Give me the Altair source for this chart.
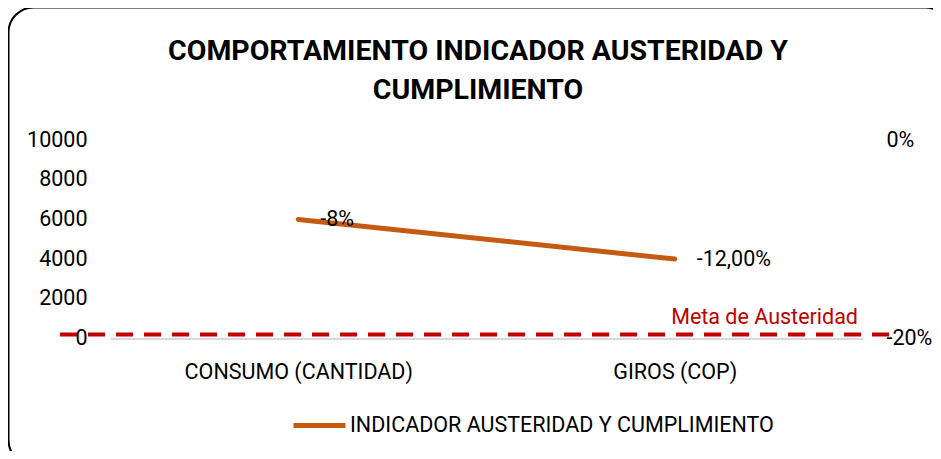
import altair as alt
import pandas as pd

# ---- data ----
categorias = ["CONSUMO (CANTIDAD)", "GIROS (COP)"]
valores = [6000, 4000]
porcentajes = [-8, -12]
etiquetas = ["-8%", "-12,00%"]
serie = "INDICADOR AUSTERIDAD Y CUMPLIMIENTO"
meta_valor = [200]
meta_texto = ["Meta de Austeridad"]
ticks_izq = [0, 2000, 4000, 6000, 8000, 10000]
ticks_der = [-20, 0]
titulo = ["COMPORTAMIENTO INDICADOR AUSTERIDAD Y", "CUMPLIMIENTO"]

df = pd.DataFrame({
    "categoria": categorias,
    "valor": valores,
    "pct": porcentajes,
    "etiqueta": etiquetas,
    "serie": [serie] * len(categorias),
})
meta_df = pd.DataFrame({"meta": meta_valor, "texto": meta_texto})
marco_df = pd.DataFrame({"k": [0]})
titulo_df = pd.DataFrame({"t": [titulo]})

W, H = 753, 198.5
FONT = "Roboto"
FS = 21.5
NARANJA = "#C55A11"
ROJO = "#C00000"

x_enc = alt.X(
    "categoria:N", sort=categorias,
    scale=alt.Scale(type="point", padding=0.5),
    axis=alt.Axis(title=None, labelAngle=0, labelFontSize=FS, labelFont=FONT,
                  labelColor="black", domainColor="#D9D9D9", domainWidth=2,
                  ticks=False, grid=False, labelPadding=23, labelLimit=400),
)

y_izq = alt.Y(
    "valor:Q", scale=alt.Scale(domain=[0, 10000]),
    axis=alt.Axis(title=None, values=ticks_izq, grid=False, domain=False, ticks=False,
                  labelFontSize=FS, labelFont=FONT, labelColor="black",
                  labelPadding=23, format="d"),
)

y_der = alt.Y(
    "pct:Q", scale=alt.Scale(domain=[-20, 0]),
    axis=alt.Axis(orient="right", title=None, values=ticks_der, grid=False, domain=False,
                  ticks=False, labelFontSize=FS, labelFont=FONT, labelColor="black",
                  labelPadding=23, labelExpr="datum.value + '%'"),
)

marco = alt.Chart(marco_df).mark_rect(
    fillOpacity=0, stroke="black", strokeWidth=2, cornerRadius=25
).encode(
    x=alt.value(-101.5), x2=alt.value(840),
    y=alt.value(-132.5), y2=alt.value(325),
)

titulo_txt = alt.Chart(titulo_df).mark_text(
    align="center", baseline="alphabetic", fontSize=28.5, font=FONT,
    fontWeight="bold", color="black", lineHeight=39
).encode(
    x=alt.value(368), y=alt.value(-80), text="t",
)

meta_regla = alt.Chart(meta_df).mark_rule(
    color=ROJO, strokeWidth=4, strokeDash=[17, 11]
).encode(
    y=alt.Y("meta:Q", scale=alt.Scale(domain=[0, 10000]), axis=None),
    x=alt.value(-50), x2=alt.value(779),
)

meta_txt = alt.Chart(meta_df).mark_text(
    align="right", baseline="alphabetic", dy=-10.5, fontSize=FS, font=FONT, color=ROJO
).encode(
    y=alt.Y("meta:Q", scale=alt.Scale(domain=[0, 10000]), axis=None),
    x=alt.value(748),
    text="texto:N",
)

linea = alt.Chart(df).mark_line(strokeWidth=5, strokeCap="round").encode(
    x=x_enc, y=y_izq,
    color=alt.Color(
        "serie:N", scale=alt.Scale(range=[NARANJA]),
        legend=alt.Legend(title=None, orient="none", legendX=181, legendY=257,
                          symbolType="stroke", symbolSize=2704, symbolStrokeWidth=5,
                          labelFontSize=FS, labelFont=FONT, labelColor="black",
                          labelOffset=2, labelLimit=700, padding=0),
    ),
)

textos = alt.Chart(df).mark_text(
    align="left", baseline="middle", dx=22, dy=1, fontSize=FS, font=FONT, color="black"
).encode(x=x_enc, y=y_der, text="etiqueta:N")

chart = alt.layer(marco, titulo_txt, meta_regla, linea, textos, meta_txt).resolve_scale(
    y="independent"
).properties(
    width=W, height=H,
    autosize=alt.AutoSizeParams(type="none"),
    padding={"left": 102, "top": 132, "right": 70, "bottom": 112.5},
).configure(
    background="white",
    view=alt.ViewConfig(stroke="transparent", strokeWidth=0),
)

chart.save("out.html", embed_options={"renderer": "svg", "actions": False})
